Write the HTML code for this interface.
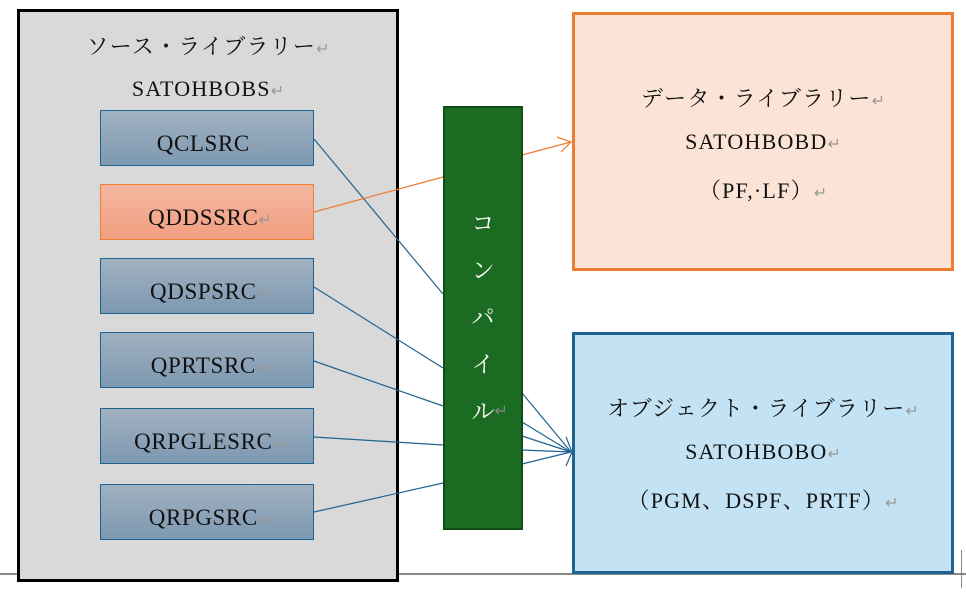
<!DOCTYPE html>
<html><head><meta charset="utf-8"><style>
body{margin:0;width:966px;height:592px;background:#fff;position:relative;overflow:hidden;font-family:"Liberation Serif","Noto Serif CJK SC",serif;color:#111}
.a{position:absolute;box-sizing:border-box}
.r{color:#999;font-size:16px;letter-spacing:0}
.src{left:100px;width:214px;height:56px;border:1px solid #1f6391;background:linear-gradient(#a1b2c1,#7d98b1);text-align:center;line-height:66px;font-size:23px;letter-spacing:0.6px;padding-left:6px}
.t{position:absolute;left:0;right:0;text-align:center;font-size:22px;letter-spacing:1.2px}
</style></head><body>
<div class="a" style="left:0;top:573px;width:966px;height:2px;background:#888"></div>
<div class="a" style="left:961px;top:550px;width:1px;height:38px;background:#888"></div>
<div class="a" style="left:17px;top:9px;width:382px;height:573px;border:3px solid #000;background:#d9d9d9"></div>
<div class="t" style="left:17px;width:382px;top:30px">ソース・ライブラリー<span class="r">↵</span></div>
<div class="t" style="left:17px;width:382px;top:76px">SATOHBOBS<span class="r">↵</span></div>
<div class="a src" style="top:110px">QCLSRC<span class="r">↵</span></div>
<div class="a src" style="top:184px;border-color:#ed7d31;background:linear-gradient(#f4b6a2,#f29f80)">QDDSSRC<span class="r">↵</span></div>
<div class="a src" style="top:258px">QDSPSRC<span class="r">↵</span></div>
<div class="a src" style="top:332px">QPRTSRC<span class="r">↵</span></div>
<div class="a src" style="top:408px">QRPGLESRC<span class="r">↵</span></div>
<div class="a src" style="top:484px">QRPGSRC<span class="r">↵</span></div>
<div class="a" style="left:572px;top:12px;width:382px;height:259px;border:3px solid #ed7d31;background:#fbe4d6"></div>
<div class="t" style="left:572px;width:382px;top:82px">データ・ライブラリー<span class="r">↵</span></div>
<div class="t" style="left:572px;width:382px;top:129px">SATOHBOBD<span class="r">↵</span></div>
<div class="t" style="left:572px;width:382px;top:174px">（PF,·LF）<span class="r">↵</span></div>
<div class="a" style="left:572px;top:332px;width:382px;height:242px;border:3px solid #1f6391;background:#c3e3f4"></div>
<div class="t" style="left:572px;width:382px;top:392px">オブジェクト・ライブラリー<span class="r">↵</span></div>
<div class="t" style="left:572px;width:382px;top:439px">SATOHBOBO<span class="r">↵</span></div>
<div class="t" style="left:572px;width:382px;top:484px">（PGM、DSPF、PRTF）<span class="r">↵</span></div>
<svg class="a" style="left:0;top:0" width="966" height="592">
<g stroke="#1f6391" stroke-width="1.2" fill="none">
<line x1="314" y1="139" x2="443" y2="294"/>
<line x1="314" y1="287" x2="443" y2="368"/>
<line x1="314" y1="361" x2="443" y2="406"/>
<line x1="314" y1="437" x2="443" y2="445"/>
<line x1="314" y1="512" x2="443" y2="483"/>
<line x1="522" y1="393" x2="571" y2="452"/>
<line x1="522" y1="422" x2="571" y2="452"/>
<line x1="522" y1="436" x2="571" y2="452"/>
<line x1="522" y1="450" x2="571" y2="452"/>
<line x1="522" y1="464" x2="571" y2="452"/>
<polyline points="566,437 572,452 566,466"/>
</g>
<g stroke="#ed7d31" stroke-width="1.2" fill="none">
<line x1="314" y1="212" x2="443" y2="177"/>
<line x1="522" y1="155" x2="571" y2="142"/>
<polyline points="557,137 571,142 561,152"/>
</g>
</svg>
<div class="a" style="left:443px;top:106px;width:80px;height:424px;background:#1b6b23;border:2px solid #124d18"></div>
<div class="a" style="left:443px;top:200px;width:80px;color:#fff;font-size:23px;line-height:47px;text-align:center">コ<br>ン<br>パ<br>イ<br>ル<span style="color:#888;font-size:16px;position:absolute">↵</span></div>
</body></html>
